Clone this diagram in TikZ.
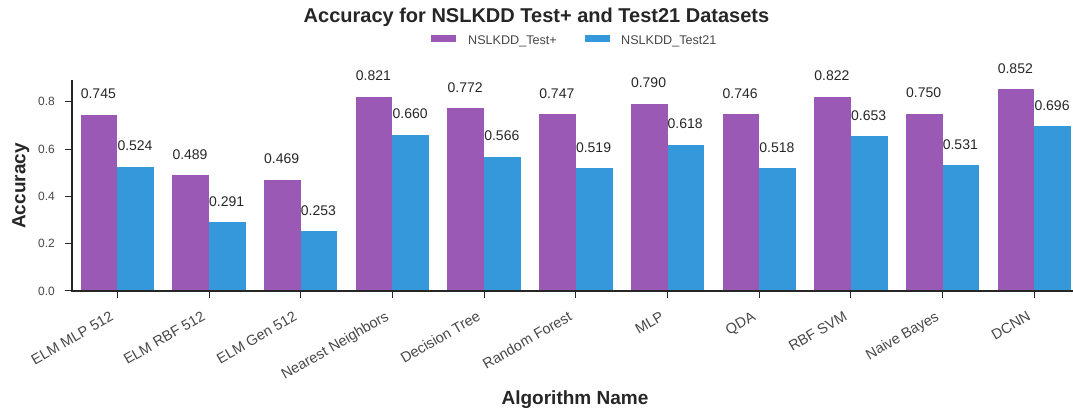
\documentclass[tikz,border=0pt]{standalone}
\usepackage{fontspec}
\setmainfont{Liberation Sans}
\usetikzlibrary{positioning}
\definecolor{testplus}{HTML}{9B59B6}
\definecolor{testtwo}{HTML}{3498DB}
\definecolor{ink}{HTML}{262626}
\tikzset
{
    plusbar/.style = {fill=testplus, draw=none},
    twobar/.style = {fill=testtwo, draw=none},
    spine/.style = {draw=ink, line width=1.3pt},
    tickmark/.style = {draw=ink, line width=1pt},
    vallabel/.style = {anchor=base west, inner sep=0pt, text=ink, font=\fontsize{14}{16}\selectfont},
    xticklabel/.style = {anchor=north east, rotate=30, inner sep=0pt, text height=10.5pt, text depth=3pt, text=ink!85, font=\fontsize{14.5}{16}\selectfont},
    yticklabel/.style = {anchor=east, inner sep=0pt, text=ink!85, font=\fontsize{12}{14}\selectfont},
    axlabel/.style = {anchor=base, inner sep=0pt, text=ink, font=\fontsize{19}{22}\selectfont\bfseries},
    legendtext/.style = {anchor=base west, inner sep=0pt, text=ink!85, font=\fontsize{12.6}{14}\selectfont}
}

\begin{document}
\begin{tikzpicture}[x=1pt, y=1pt]
\useasboundingbox (0,0) rectangle (1073,415);
% bars and value labels
\foreach \lab/\p/\t [count=\i from 0] in {ELM MLP 512/0.745/0.524, ELM RBF 512/0.489/0.291,
    ELM Gen 512/0.469/0.253, Nearest Neighbors/0.821/0.660, Decision Tree/0.772/0.566,
    Random Forest/0.747/0.519, MLP/0.790/0.618, QDA/0.746/0.518, RBF SVM/0.822/0.653,
    Naive Bayes/0.750/0.531, DCNN/0.852/0.696}
{
    \fill[plusbar] ({117.3+91.7*\i-36.7},124) rectangle ({117.3+91.7*\i},{124+236.6*\p});
    \fill[twobar] ({117.3+91.7*\i},124) rectangle ({117.3+91.7*\i+36.7},{124+236.6*\t});
    \node[vallabel] (vp\i) at ({117.3+91.7*\i-36.7},{124+236.6*(\p+0.068)}) {\p};
    \node[vallabel] (vt\i) at ({117.3+91.7*\i},{124+236.6*(\t+0.068)}) {\t};
    \draw[tickmark] ({117.3+91.7*\i},124) -- ({117.3+91.7*\i},117);
    \node[xticklabel] (lab\i) at ({117.3+91.7*\i-8},105) {\lab};
}
% axes
\draw[spine] (72,335) -- (72,124) -- (1073,124);
\foreach \v in {0.0,0.2,0.4,0.6,0.8}
{
    \draw[tickmark] (72,{124+236.6*\v}) -- (65,{124+236.6*\v});
    \node[yticklabel] (y\v) at (55,{124+236.6*\v}) {\v};
}
\node[axlabel, rotate=90] (ylab) at (25.3,229) {Accuracy};
\node[axlabel] (xlab) at (575,11) {Algorithm Name};
\node[axlabel, font=\fontsize{20}{24}\selectfont\bfseries] (title) at (536.5,392) {Accuracy for NSLKDD Test+ and Test21 Datasets};
% legend
\fill[plusbar] (431,373) rectangle (456,380);
\node[legendtext] (lg1) at (468,370.5) {NSLKDD\_Test+};
\fill[twobar] (585,373) rectangle (610,380);
\node[legendtext] (lg2) at (621,370.5) {NSLKDD\_Test21};
\end{tikzpicture}
\end{document}
